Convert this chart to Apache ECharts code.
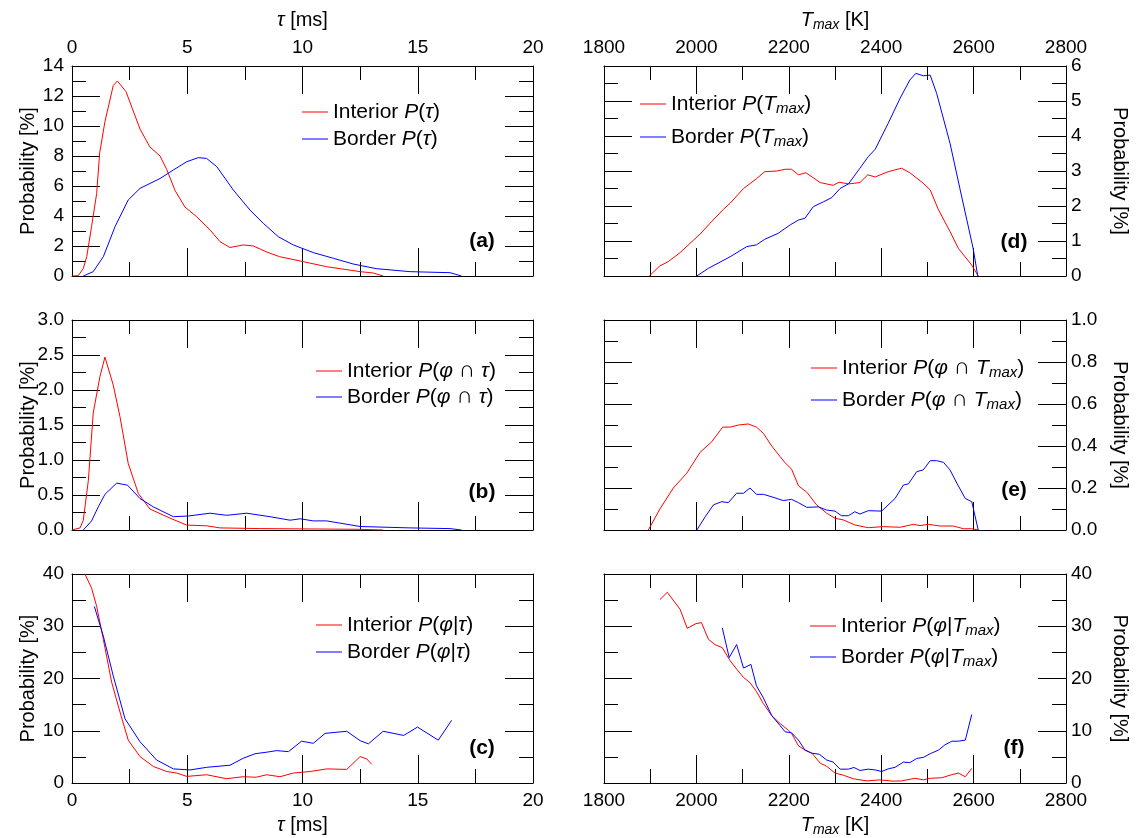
<!DOCTYPE html>
<html><head><meta charset="utf-8">
<script src="https://cdn.jsdelivr.net/npm/echarts@6/dist/echarts.min.js"></script>
<style>html,body{margin:0;padding:0;background:#fff}#c{width:1136px;height:838px}</style>
</head><body><div id="c"></div>
<script>
// ---------------- DATA ----------------
// (a) P(tau) [%] vs tau [ms]
const aInterior = [[0,0],[0.27,0.02],[0.49,0.5],[0.64,1.3],[0.85,3.3],[1.07,5.5],[1.2,8.2],[1.43,10.3],[1.79,12.7],[1.97,13.0],[2.34,12.3],[2.95,9.8],[3.38,8.6],[3.82,8.0],[4.11,7.1],[4.47,5.7],[4.9,4.6],[5.41,3.95],[5.99,3.07],[6.42,2.29],[6.85,1.9],[7.43,2.07],[7.87,2.0],[8.45,1.6],[9.0,1.29],[9.9,1.0],[11.05,0.62],[12.5,0.29],[13.07,0.2],[13.5,0]];
const aBorder = [[0.49,0],[0.92,0.29],[1.36,1.29],[1.87,3.3],[2.44,5.07],[2.95,5.84],[3.82,6.5],[4.4,7.07],[4.98,7.62],[5.48,7.89],[5.84,7.84],[6.28,7.29],[7.0,5.73],[7.72,4.4],[8.3,3.51],[8.95,2.62],[9.6,2.07],[10.47,1.56],[11.34,1.18],[12.2,0.8],[13.2,0.49],[14.66,0.29],[16.4,0.22],[16.9,0]];
// (b) P(phi ∩ tau)
const bInterior = [[0,0],[0.35,0.03],[0.49,0.14],[0.71,0.71],[0.92,1.67],[1.21,2.19],[1.43,2.47],[1.79,2.07],[2.08,1.62],[2.44,0.95],[2.88,0.52],[3.38,0.3],[4.25,0.17],[4.98,0.07],[5.84,0.06],[6.42,0.03],[8.16,0.02],[12.5,0.01],[13.5,0]];
const bBorder = [[0.49,0],[0.85,0.13],[1.14,0.33],[1.43,0.51],[1.94,0.67],[2.41,0.64],[2.95,0.45],[3.53,0.33],[4.4,0.19],[5.05,0.2],[5.99,0.24],[6.71,0.21],[7.58,0.24],[8.59,0.19],[9.46,0.14],[9.9,0.16],[10.47,0.13],[11.05,0.13],[12.5,0.05],[14.66,0.03],[16.4,0.02],[16.9,0]];
// (c) P(phi|tau)
const cInterior = [[0.56,40],[0.85,37.3],[1.07,33.8],[1.36,27.5],[1.72,19.3],[2.08,13.6],[2.44,8.2],[2.95,5.06],[3.53,3.16],[4.11,2.2],[4.55,1.9],[4.98,1.26],[5.84,1.58],[6.71,0.82],[7.43,1.2],[7.99,1.1],[8.45,1.58],[9.02,1.2],[9.6,1.9],[10.33,2.2],[11.05,2.7],[11.92,2.6],[12.5,5.06],[12.79,4.6],[13.0,3.6]];
const cBorder = [[0.97,33.8],[1.36,28.1],[1.79,20.5],[2.3,12.3],[2.95,7.9],[3.67,4.4],[4.4,2.7],[5.12,2.5],[5.84,3.0],[6.85,3.4],[7.43,4.74],[7.94,5.6],[8.45,5.9],[8.88,6.2],[9.39,6.0],[9.96,8.0],[10.47,7.6],[10.98,9.5],[11.92,9.9],[12.5,8.1],[12.86,7.5],[13.5,9.9],[14.39,9.1],[14.99,10.7],[15.89,8.2],[16.47,12.0]];
// (d) P(Tmax) vs Tmax [K]
const dInterior = [[1898,0],[1921,0.29],[1939,0.41],[1965,0.67],[1986,0.93],[2008,1.2],[2029,1.5],[2058,1.9],[2073,2.08],[2102,2.5],[2130,2.78],[2148,2.98],[2174,3.0],[2192,3.05],[2206,3.05],[2221,2.89],[2237,2.95],[2268,2.67],[2296,2.59],[2309,2.68],[2329,2.63],[2354,2.67],[2371,2.89],[2387,2.83],[2415,2.98],[2444,3.08],[2462,2.95],[2491,2.65],[2506,2.46],[2524,1.89],[2549,1.27],[2567,0.79],[2596,0.31],[2610,0]];
const dBorder = [[2001,0],[2026,0.22],[2073,0.55],[2109,0.84],[2130,0.89],[2148,1.05],[2177,1.22],[2203,1.46],[2221,1.6],[2235,1.65],[2253,1.98],[2275,2.12],[2293,2.24],[2311,2.5],[2329,2.63],[2354,3.08],[2372,3.41],[2387,3.62],[2415,4.36],[2441,5.08],[2462,5.6],[2475,5.79],[2491,5.72],[2506,5.74],[2520,5.22],[2549,3.79],[2571,2.46],[2599,0.79],[2609,0]];
// (e) P(phi ∩ Tmax)
const eInterior = [[1896,0],[1921,0.10],[1950,0.2],[1979,0.27],[2008,0.37],[2033,0.42],[2057,0.49],[2073,0.49],[2091,0.5],[2112,0.505],[2130,0.49],[2145,0.46],[2163,0.4],[2181,0.35],[2192,0.32],[2206,0.29],[2221,0.21],[2239,0.18],[2260,0.12],[2282,0.08],[2300,0.056],[2318,0.048],[2343,0.024],[2372,0.011],[2405,0.016],[2441,0.013],[2470,0.027],[2484,0.021],[2502,0.027],[2527,0.019],[2556,0.019],[2578,0.006],[2596,0.006],[2610,0]];
const eBorder = [[2001,0],[2019,0.063],[2037,0.12],[2055,0.135],[2069,0.13],[2087,0.175],[2102,0.175],[2116,0.2],[2130,0.17],[2145,0.17],[2166,0.156],[2188,0.14],[2206,0.146],[2221,0.13],[2239,0.108],[2264,0.11],[2282,0.095],[2300,0.09],[2314,0.068],[2329,0.068],[2343,0.087],[2354,0.076],[2372,0.092],[2401,0.09],[2430,0.15],[2448,0.214],[2459,0.22],[2477,0.278],[2491,0.286],[2506,0.33],[2520,0.33],[2535,0.322],[2549,0.286],[2564,0.222],[2582,0.15],[2596,0.135],[2610,0]];
// (f) P(phi|Tmax)
const fInterior = [[1921,35.1],[1937,36.5],[1965,33.2],[1980,29.6],[1999,30.5],[2011,30.7],[2026,27.5],[2040,26.5],[2056,25.9],[2073,23.4],[2087,21.8],[2102,20.2],[2116,19.2],[2130,17.5],[2145,15.2],[2163,12.9],[2181,11.4],[2199,10.1],[2206,9.5],[2221,7.1],[2235,6.3],[2250,5.7],[2268,3.8],[2282,3.2],[2300,1.9],[2318,1.5],[2340,0.8],[2369,0.4],[2397,0.6],[2426,0.35],[2444,0.4],[2473,0.9],[2491,0.6],[2506,0.9],[2531,1.0],[2549,1.5],[2567,1.9],[2582,1.2],[2596,2.8]];
const fBorder = [[2056,29.7],[2071,24.0],[2087,26.5],[2102,22.0],[2118,22.7],[2130,18.6],[2145,16.3],[2163,12.9],[2181,11.0],[2192,9.8],[2206,9.6],[2221,8.2],[2235,6.3],[2250,5.7],[2266,5.5],[2282,4.4],[2296,4.0],[2311,2.65],[2329,2.65],[2341,2.97],[2354,2.4],[2372,2.65],[2387,2.5],[2401,2.2],[2415,2.7],[2430,3.0],[2448,4.0],[2462,3.9],[2477,4.7],[2491,4.9],[2506,5.6],[2524,6.3],[2538,7.3],[2553,8.0],[2567,8.0],[2582,8.2],[2596,13.1]];

// axis ranges [min, max, interval, minorSplit]
const tauRange = [0, 20, 5, 2];
const tmaxRange = [1800, 2800, 200, 2];
const yRangeA = [0, 14, 2, 2];
const yRangeB = [0, 3.0, 0.5, 2];
const yRangeC = [0, 40, 10, 2];
const yRangeD = [0, 6, 1, 2];
const yRangeE = [0, 1.0, 0.2, 2];
const yRangeF = [0, 40, 10, 2];

const panelLabels = ['(a)', '(b)', '(c)', '(d)', '(e)', '(f)'];
const legendNames = [
  ['Interior P(τ)', 'Border P(τ)'],
  ['Interior P(φ ∩ τ)', 'Border P(φ ∩ τ)'],
  ['Interior P(φ|τ)', 'Border P(φ|τ)'],
  ['Interior P(Tmax)', 'Border P(Tmax)'],
  ['Interior P(φ ∩ Tmax)', 'Border P(φ ∩ Tmax)'],
  ['Interior P(φ|Tmax)', 'Border P(φ|Tmax)']
];
const seriesData = [
  [aInterior, aBorder], [bInterior, bBorder], [cInterior, cBorder],
  [dInterior, dBorder], [eInterior, eBorder], [fInterior, fBorder]
];

// ---------------- LAYOUT / STYLE ----------------
const FONT = '"Liberation Sans", Arial, Helvetica, sans-serif';
const RED = '#ff0000', BLUE = '#0000ff';
const richSet = {
  i: { fontStyle: 'italic', fontSize: 21, lineHeight: 24, fontFamily: FONT, color: '#000' },
  c: { fontSize: 23, lineHeight: 24, fontFamily: FONT, color: '#000' },
  s: { fontStyle: 'italic', fontSize: 15, lineHeight: 8, verticalAlign: 'bottom', fontFamily: FONT, color: '#000' }
};
const nameRich = {
  i: { fontStyle: 'italic', fontSize: 20, lineHeight: 24, fontFamily: FONT, color: '#000' },
  s: { fontStyle: 'italic', fontSize: 14, lineHeight: 8, verticalAlign: 'bottom', fontFamily: FONT, color: '#000' }
};
function richName(n) {
  return n.replace(/P\(/, '{i|P}(').replace(/φ/g, '{i|φ}').replace(/τ/g, '{i|τ}')
          .replace(/Tmax/g, '{i|T}{s|max}').replace(/ ∩ /g, ' {c|∩} ');
}

const panels = [
  { grid: { left: 72, top: 66, width: 461, height: 210 }, x: tauRange, y: yRangeA, top: true, bottom: false, side: 'left', dec: 0,
    legend: { left: 302, top: 100, gap: 3 }, label: [482, 241] },
  { grid: { left: 72, top: 320, width: 461, height: 210 }, x: tauRange, y: yRangeB, top: false, bottom: false, side: 'left', dec: 1,
    legend: { left: 316, top: 359, gap: 2 }, label: [482, 492] },
  { grid: { left: 72, top: 574, width: 461, height: 211 }, x: tauRange, y: yRangeC, top: false, bottom: true, side: 'left', dec: 0,
    legend: { left: 316, top: 613, gap: 3 }, label: [482, 748] },
  { grid: { left: 604, top: 66, width: 462, height: 210 }, x: tmaxRange, y: yRangeD, top: true, bottom: false, side: 'right', dec: 0,
    legend: { left: 640, top: 92, gap: 9 }, label: [1014, 242] },
  { grid: { left: 604, top: 320, width: 462, height: 210 }, x: tmaxRange, y: yRangeE, top: false, bottom: false, side: 'right', dec: 1,
    legend: { left: 811, top: 356, gap: 8 }, label: [1014, 490] },
  { grid: { left: 604, top: 574, width: 462, height: 211 }, x: tmaxRange, y: yRangeF, top: false, bottom: true, side: 'right', dec: 0,
    legend: { left: 810, top: 614, gap: 7 }, label: [1014, 748] }
];

const line = { color: '#000', width: 1 };
function baseAxis(range) {
  return {
    type: 'value', min: range[0], max: range[1], interval: range[2],
    axisLine: { show: true, onZero: false, lineStyle: line },
    axisTick: { show: true, inside: true, length: 28, lineStyle: line },
    minorTick: { show: true, splitNumber: range[3], length: 14, lineStyle: line },
    splitLine: { show: false }, minorSplitLine: { show: false },
    nameMoveOverlap: false
  };
}
const labelStyle = { fontSize: 19, fontFamily: FONT, color: '#000', showMinLabel: true, showMaxLabel: true };
const plainFmt = v => String(v);

const grids = [], xAxes = [], yAxes = [], series = [], legends = [], graphics = [];
panels.forEach((p, gi) => {
  grids.push(Object.assign({ containLabel: false }, p.grid));
  const isTau = p.x === tauRange;
  const xName = isTau ? '{i|τ} [ms]' : '{i|T}{s|max} [K]';
  const nameTS = { fontSize: 20, fontFamily: FONT, color: '#000', lineHeight: 24, rich: nameRich };
  // bottom x
  const xb = Object.assign(baseAxis(p.x), { gridIndex: gi, position: 'bottom',
    axisLabel: Object.assign({ show: p.bottom, margin: 8, formatter: plainFmt }, labelStyle) });
  if (p.bottom) Object.assign(xb, { name: xName, nameLocation: 'middle', nameGap: 30, nameTextStyle: nameTS });
  // top x
  const xt = Object.assign(baseAxis(p.x), { gridIndex: gi, position: 'top',
    axisLabel: Object.assign({ show: p.top, margin: 9, formatter: plainFmt }, labelStyle) });
  if (p.top) Object.assign(xt, { name: xName, nameLocation: 'middle', nameGap: 34, nameTextStyle: nameTS });
  xAxes.push(xb, xt);
  const fmt = v => v.toFixed(p.dec);
  const yl = Object.assign(baseAxis(p.y), { gridIndex: gi, position: 'left',
    axisLabel: Object.assign({ show: p.side === 'left', margin: 8, formatter: fmt }, labelStyle) });
  const yr = Object.assign(baseAxis(p.y), { gridIndex: gi, position: 'right',
    axisLabel: Object.assign({ show: p.side === 'right', margin: 5, formatter: fmt }, labelStyle) });
  const yNameStyle = { fontSize: 20, fontFamily: FONT, color: '#000' };
  if (p.side === 'left') Object.assign(yl, { name: 'Probability [%]', nameLocation: 'middle', nameRotate: 90, nameGap: 34, nameTextStyle: yNameStyle });
  else Object.assign(yr, { name: 'Probability [%]', nameLocation: 'middle', nameRotate: -90, nameGap: 44, nameTextStyle: yNameStyle });
  yAxes.push(yl, yr);
  const names = legendNames[gi];
  const yIdx = p.side === 'left' ? 2 * gi : 2 * gi + 1;
  [RED, BLUE].forEach((c, k) => {
    series.push({ type: 'line', name: names[k], xAxisIndex: 2 * gi, yAxisIndex: yIdx,
      data: seriesData[gi][k], showSymbol: false, symbol: 'none', color: c,
      lineStyle: { color: c, width: 1 }, itemStyle: { color: c }, animation: false, silent: true });
  });
  legends.push({ data: names, left: p.legend.left, top: p.legend.top, orient: 'vertical', icon: 'rect',
    itemWidth: 26, itemHeight: 1, itemGap: p.legend.gap, padding: 0, selectedMode: false,
    formatter: richName,
    textStyle: { fontSize: 21, fontFamily: FONT, color: '#000', lineHeight: 24, rich: richSet } });
  graphics.push({ type: 'text', x: p.label[0], y: p.label[1],
    style: { text: panelLabels[gi], font: 'bold 21px ' + FONT, fill: '#000', align: 'center', verticalAlign: 'middle' } });
});

const chart = echarts.init(document.getElementById('c'), null, { renderer: 'canvas' });
chart.setOption({
  animation: false, backgroundColor: '#fff',
  grid: grids, xAxis: xAxes, yAxis: yAxes, series: series, legend: legends, graphic: graphics
});
</script></body></html>
